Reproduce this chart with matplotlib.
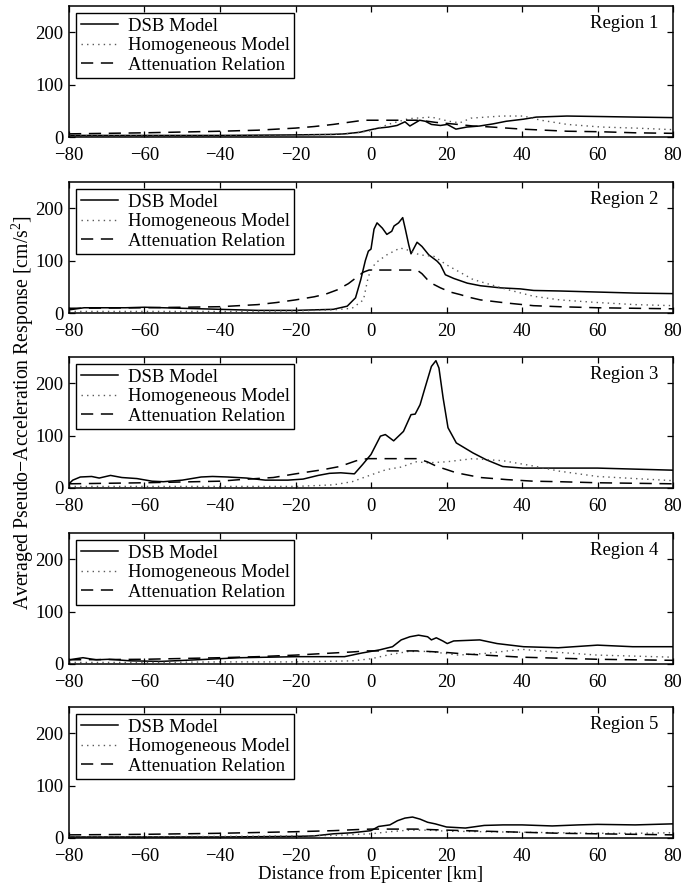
import matplotlib
matplotlib.use("Agg")
import matplotlib.pyplot as plt

plt.rcParams['font.family'] = ['Liberation Serif', 'DejaVu Serif']
plt.rcParams['mathtext.fontset'] = 'custom'
plt.rcParams['mathtext.rm'] = 'Liberation Serif'
plt.rcParams['font.size'] = 13.5

regions = ['Region 1', 'Region 2', 'Region 3', 'Region 4', 'Region 5']
series_labels = ['DSB Model', 'Homogeneous Model', 'Attenuation Relation']
x_ticks = [-80, -60, -40, -20, 0, 20, 40, 60, 80]
y_ticks = [0, 100, 200]
x_label = 'Distance from Epicenter [km]'
y_label = 'Averaged Pseudo\u2212Acceleration Response [cm/s$^2$]'

# ---- Region 1 ----
r1_dsb_x = [-80, -60, -40, -20, -10, -7, -3, 0, 2, 4.6, 6.9, 9, 10.3, 12.9, 14.4, 16, 18.4, 20.2, 22.5, 25.4, 28.8, 32.3, 35.8, 40.4, 43.8, 51.9, 61.2, 70, 80]
r1_dsb_y = [3, 3, 3, 4, 5, 6, 9, 14, 17, 19, 22, 29, 21, 32, 30, 24, 22, 24, 15, 19, 21, 25, 30, 34, 38, 40, 39, 38, 37]
r1_hom_x = [-80, -60, -40, -20, -10, -5, 0, 5, 10, 16, 20.7, 23.5, 26.5, 34.6, 40.4, 45, 52, 61, 70, 80]
r1_hom_y = [2, 2, 2, 3, 5, 7, 12, 25, 35, 38, 30, 27, 36, 40, 40, 32, 24, 19, 17, 14]
r1_att_x = [-80, -60, -40, -30, -20, -15, -10, -6, -3, -1, 0, 12, 14, 17, 20, 23, 27, 32, 40, 52, 61, 70, 80]
r1_att_y = [6, 8, 11, 13, 17, 20, 24, 28, 31, 32, 32, 32, 31, 28, 26, 24, 21, 19, 15, 11, 10, 8, 7]

# ---- Region 2 ----
r2_dsb_x = [-80, -76, -72, -65, -60, -50, -40, -30, -20, -10, -6.3, -4.1, -2.7, -1.5, -0.7, 0, 0.8, 1.6, 3, 4.2, 5.5, 6.1, 7.3, 8.4, 9.1, 10, 10.6, 12.2, 13.5, 15.3, 17.5, 18.4, 19.7, 21.9, 25.5, 29, 34.3, 39.6, 43.1, 50, 60, 70, 80]
r2_dsb_y = [6, 10, 10, 10, 11, 9, 7, 5, 5, 7, 13, 29, 64, 100, 118, 122, 160, 172, 162, 150, 156, 166, 172, 182, 160, 130, 113, 135, 127, 111, 99, 92, 73, 66, 57, 52, 48, 46, 43, 42, 40, 38, 37]
r2_hom_x = [-80, -60, -40, -20, -10, -5, -2, -0.7, 1.1, 4.2, 7.7, 9.4, 12.9, 16.7, 20, 27, 36, 43, 50, 60, 70, 80]
r2_hom_y = [3, 3, 3, 4, 6, 9, 25, 70, 95, 111, 124, 121, 111, 108, 92, 64, 45, 32, 25, 20, 16, 14]
r2_att_x = [-80, -60, -40, -30, -25, -20, -15, -12, -9, -6, -4, -2, -0.5, 0, 12.2, 13.5, 14.9, 16.5, 18.4, 21, 23.7, 26, 29, 36, 43, 50, 60, 70, 80]
r2_att_y = [9, 10, 12, 16, 20, 25, 31, 36, 44, 56, 67, 78, 82, 82, 82, 75, 64, 55, 48, 40, 35, 30, 25, 19, 14, 12, 10, 9, 8]

# ---- Region 3 ----
r3_dsb_x = [-80, -79, -77, -74, -72, -69, -66, -62, -58, -55, -50, -45, -42, -38, -33, -28, -22, -18, -14, -11, -8, -4.4, -2.2, 0, 2.5, 3.8, 6, 8.6, 10.6, 11.7, 13, 14.3, 16, 17.2, 18, 19.1, 20.4, 22.6, 27, 30.5, 34.9, 40.2, 44.6, 60, 70, 80]
r3_dsb_y = [8, 15, 21, 22, 19, 24, 20, 18, 13, 12, 15, 21, 22, 21, 19, 15, 15, 17, 24, 28, 29, 27, 45, 64, 99, 102, 90, 108, 140, 141, 159, 191, 232, 243, 229, 172, 115, 86, 67, 54, 41, 38, 38, 38, 36, 34]
r3_hom_x = [-80, -60, -40, -20, -10, -5, 0, 4, 8, 12, 15, 20, 27, 35, 43, 50, 60, 70, 80]
r3_hom_y = [3, 3, 3, 3, 6, 12, 25, 35, 40, 50, 48, 50, 56, 52, 42, 32, 22, 18, 14]
r3_att_x = [-80, -60, -40, -34.7, -25.9, -20, -12.7, -8.3, -3.9, -1, 0, 12.2, 14.9, 17.5, 20.1, 22.6, 29, 36, 43, 50, 60, 70, 80]
r3_att_y = [8, 10, 13, 16, 20, 27, 35, 41, 52, 56, 56, 56, 50, 41, 35, 29, 20, 16, 13, 12, 10, 9, 8]

# ---- Region 4 ----
r4_dsb_x = [-80, -76.3, -72.8, -69.4, -63.6, -55.5, -46.3, -34.7, -19.7, -7, -2.4, 2.3, 5.7, 8, 10.3, 12.6, 15, 16, 17.3, 19, 20.2, 21.9, 28.8, 33.4, 40.4, 49.6, 60, 69.3, 80]
r4_dsb_y = [8, 12, 8, 9, 6, 5, 8, 12, 14, 14, 21, 27, 33, 46, 52, 55, 52, 46, 50, 44, 39, 44, 46, 39, 33, 31, 36, 33, 33]
r4_hom_x = [-80, -60, -40, -20, -5, 0, 5, 10, 15, 20, 23, 30, 40, 45, 50, 60, 70, 80]
r4_hom_y = [3, 3, 4, 4, 6, 10, 18, 24, 24, 20, 17, 20, 28, 25, 22, 17, 15, 13]
r4_att_x = [-80, -60, -40, -30, -20, -10, -5, -1, 0, 12, 15, 20, 25, 30, 40, 50, 60, 70, 80]
r4_att_y = [8, 9, 12, 14, 17, 21, 23, 25, 25, 25, 24, 22, 19, 17, 13, 11, 9, 8, 7]

# ---- Region 5 ----
r5_dsb_x = [-80, -40, -20, -15, -10, -5, 0, 2, 5, 7, 9, 11, 13, 15, 17, 20, 25, 30, 35, 40, 48, 55, 60, 70, 80]
r5_dsb_y = [2, 2, 3, 4, 8, 10, 14, 22, 25, 33, 38, 40, 36, 30, 27, 21, 19, 24, 25, 25, 23, 25, 26, 25, 27]
r5_hom_x = [-80, -40, -20, -10, 0, 5, 10, 15, 20, 30, 40, 50, 60, 70, 80]
r5_hom_y = [2, 3, 4, 5, 8, 12, 15, 15, 13, 12, 11, 10, 9, 9, 10]
r5_att_x = [-80, -60, -40, -20, -10, -4, 0, 12, 16, 20, 30, 40, 50, 60, 80]
r5_att_y = [6, 7, 9, 12, 14, 16, 17, 17, 16, 15, 13, 11, 9, 8, 6]

data = [
    ((r1_dsb_x, r1_dsb_y), (r1_hom_x, r1_hom_y), (r1_att_x, r1_att_y)),
    ((r2_dsb_x, r2_dsb_y), (r2_hom_x, r2_hom_y), (r2_att_x, r2_att_y)),
    ((r3_dsb_x, r3_dsb_y), (r3_hom_x, r3_hom_y), (r3_att_x, r3_att_y)),
    ((r4_dsb_x, r4_dsb_y), (r4_hom_x, r4_hom_y), (r4_att_x, r4_att_y)),
    ((r5_dsb_x, r5_dsb_y), (r5_hom_x, r5_hom_y), (r5_att_x, r5_att_y)),
]

W, H = 683, 889
fig = plt.figure(figsize=(W / 100, H / 100), dpi=100)

left_px, right_px = 69, 673
tops = [6, 182, 357, 533, 707]
panel_h = 131

styles = [
    dict(color='black', lw=1.1, ls='-'),
    dict(color='0.35', lw=1.0, ls=(0, (1, 3))),
    dict(color='black', lw=1.1, ls=(0, (8, 5))),
]

for i, (reg, curves) in enumerate(zip(regions, data)):
    bottom_px = tops[i] + panel_h
    ax = fig.add_axes([left_px / W, 1 - bottom_px / H, (right_px - left_px) / W, panel_h / H])
    for (xs, ys), st, lab in zip(curves, styles, series_labels):
        ax.plot(xs, ys, label=lab, **st)
    ax.set_xlim(-80, 80)
    ax.set_ylim(0, 250)
    ax.set_xticks(x_ticks)
    ax.set_yticks(y_ticks)
    ax.tick_params(direction='in', top=True, right=True, length=4, width=0.9, labelsize=13.5)
    ax.tick_params(axis='x', pad=7)
    ax.tick_params(axis='y', pad=4)
    for sp in ax.spines.values():
        sp.set_linewidth(1.1)
    leg = ax.legend(loc='upper left', bbox_to_anchor=(0.0116, 0.947), borderaxespad=0,
                    fancybox=False, framealpha=1, edgecolor='black', fontsize=13.5,
                    handlelength=2.0, handletextpad=0.5, labelspacing=0.12,
                    borderpad=0.25)
    leg.get_frame().set_linewidth(1.0)
    ax.text(0.975, 0.87, reg, transform=ax.transAxes, ha='right', va='center', fontsize=13.5)
    if i == 4:
        ax.set_xlabel(x_label, fontsize=13.5, labelpad=0)

fig.text(23 / W, 1 - 412 / H, y_label, rotation=90, ha='center', va='center', fontsize=14.2)

fig.savefig('out.png', dpi=100)
